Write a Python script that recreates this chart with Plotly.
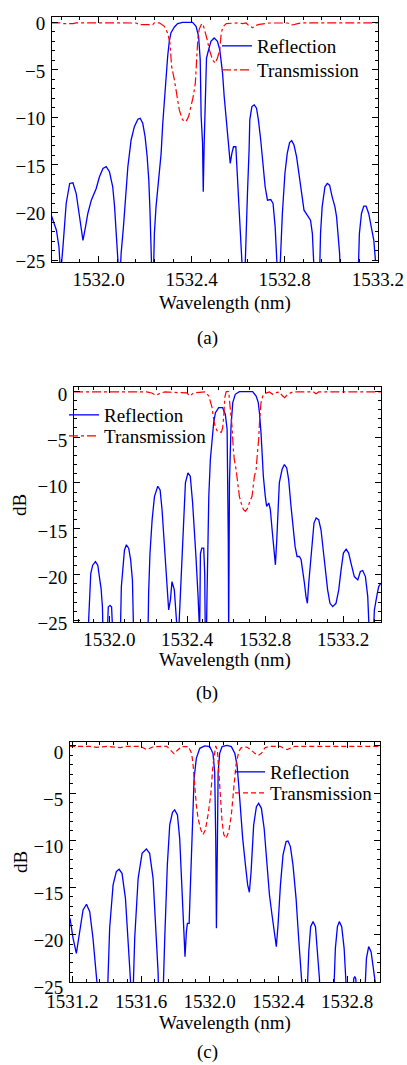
import plotly.graph_objects as go

# ---------------- data (wavelength in nm, level in dB) ----------------
# values below the -25 dB floor are drawn off-axis (clipped by the frame)
A_REFL_WL = [
    1531.797, 1531.819, 1531.830, 1531.837, 1531.847, 1531.854, 1531.861, 1531.876, 1531.890, 1531.904,
    1531.916, 1531.926, 1531.933, 1531.944, 1531.954, 1531.969, 1531.990, 1532.004, 1532.019, 1532.033,
    1532.047, 1532.061, 1532.069, 1532.076, 1532.083, 1532.087, 1532.093, 1532.097, 1532.107, 1532.116,
    1532.126, 1532.140, 1532.154, 1532.169, 1532.179, 1532.190, 1532.200, 1532.209, 1532.216, 1532.221,
    1532.226, 1532.229, 1532.236, 1532.240, 1532.247, 1532.259, 1532.269, 1532.276, 1532.283, 1532.290,
    1532.297, 1532.304, 1532.311, 1532.326, 1532.340, 1532.361, 1532.390, 1532.404, 1532.419, 1532.430,
    1532.437, 1532.441, 1532.447, 1532.450, 1532.454, 1532.459, 1532.464, 1532.473, 1532.483, 1532.497,
    1532.511, 1532.521, 1532.533, 1532.540, 1532.547, 1532.554, 1532.561, 1532.566, 1532.573, 1532.580,
    1532.590, 1532.594, 1532.601, 1532.607, 1532.614, 1532.619, 1532.629, 1532.633, 1532.640, 1532.647,
    1532.650, 1532.659, 1532.669, 1532.679, 1532.687, 1532.697, 1532.707, 1532.716, 1532.726, 1532.740,
    1532.750, 1532.759, 1532.764, 1532.769, 1532.779, 1532.783, 1532.790, 1532.801, 1532.811, 1532.821,
    1532.830, 1532.840, 1532.851, 1532.861, 1532.873, 1532.883, 1532.897, 1532.911, 1532.919, 1532.924,
    1532.927, 1532.950, 1532.954, 1532.961, 1532.973, 1532.983, 1532.993, 1533.004, 1533.016, 1533.023,
    1533.030, 1533.036, 1533.039, 1533.116, 1533.121, 1533.130, 1533.140, 1533.150, 1533.161, 1533.173,
    1533.183, 1533.190]
A_REFL_DB = [
    -20.28, -21.86, -23.62, -26.5, -23.62, -21.51, -19.05, -16.94, -16.87, -18.0,
    -20.1, -21.86, -22.92, -21.51, -20.1, -18.7, -17.47, -16.24, -15.36, -15.18,
    -15.71, -17.29, -19.4, -22.21, -24.32, -26.5, -26.5, -24.32, -21.51, -18.7,
    -15.18, -12.37, -10.97, -10.19, -10.09, -10.62, -12.02, -14.13, -16.59, -19.75,
    -22.92, -26.5, -26.5, -22.21, -19.4, -16.59, -13.78, -10.62, -8.15, -5.34,
    -3.59, -2.0, -1.12, -0.49, -0.14, 0.0, 0.0, 0.0, -0.42, -1.48,
    -3.94, -9.91, -12.72, -17.82, -12.72, -6.4, -3.76, -2.88, -2.0, -1.65,
    -2.0, -2.88, -5.34, -7.8, -9.91, -11.67, -13.78, -14.83, -13.78, -13.08,
    -13.08, -14.83, -17.29, -20.46, -22.92, -26.5, -26.5, -22.21, -18.0, -13.43,
    -10.26, -8.86, -8.68, -9.03, -10.26, -12.37, -15.18, -17.29, -18.7, -18.63,
    -19.05, -21.51, -23.97, -26.5, -26.5, -23.62, -20.1, -15.89, -13.78, -12.65,
    -12.44, -12.9, -14.13, -15.89, -18.0, -19.75, -20.28, -20.81, -22.21, -24.32,
    -26.5, -26.5, -22.21, -19.4, -17.29, -16.94, -17.12, -18.35, -19.4, -20.46,
    -22.21, -24.32, -26.5, -26.5, -22.21, -20.1, -19.33, -19.33, -20.1, -21.51,
    -22.92, -25.03]

A_TRANS_WL = [
    1531.797, 1531.833, 1531.847, 1531.890, 1531.904, 1532.076, 1532.090, 1532.161, 1532.176, 1532.233,
    1532.240, 1532.261, 1532.283, 1532.297, 1532.307, 1532.314, 1532.326, 1532.336, 1532.347, 1532.361,
    1532.376, 1532.387, 1532.397, 1532.407, 1532.416, 1532.421, 1532.427, 1532.433, 1532.439, 1532.444,
    1532.450, 1532.459, 1532.467, 1532.476, 1532.490, 1532.501, 1532.511, 1532.521, 1532.527, 1532.534,
    1532.549, 1532.599, 1532.620, 1532.634, 1532.649, 1532.663, 1532.677, 1532.691, 1532.734, 1532.813,
    1532.833, 1532.856, 1532.877, 1533.200]
A_TRANS_DB = [
    -0.05, -0.05, -0.14, -0.14, -0.05, -0.05, -0.07, -0.07, -0.25, -0.25,
    -0.05, -0.05, -0.42, -1.12, -2.18, -4.64, -6.05, -7.45, -9.21, -10.26,
    -10.44, -9.91, -8.86, -7.80, -6.40, -3.94, -1.60, -0.70, -0.30, -0.14,
    -0.30, -1.00, -1.83, -2.88, -3.94, -4.29, -3.76, -2.88, -1.20, -0.49,
    -0.14, -0.05, -0.14, -0.07, -0.42, -0.56, -0.32, -0.21, -0.07, -0.07,
    -0.28, -0.14, -0.05, -0.05]

B_REFL_WL = [
    1531.891, 1531.898, 1531.905, 1531.915, 1531.929, 1531.941, 1531.949, 1531.958, 1531.965, 1531.968,
    1531.990, 1531.995, 1532.004, 1532.012, 1532.018, 1532.057, 1532.062, 1532.069, 1532.078, 1532.088,
    1532.100, 1532.110, 1532.119, 1532.125, 1532.199, 1532.202, 1532.209, 1532.220, 1532.232, 1532.249,
    1532.261, 1532.271, 1532.279, 1532.288, 1532.297, 1532.305, 1532.314, 1532.322, 1532.334, 1532.343,
    1532.350, 1532.356, 1532.365, 1532.374, 1532.382, 1532.391, 1532.404, 1532.416, 1532.428, 1532.439,
    1532.445, 1532.456, 1532.461, 1532.464, 1532.468, 1532.475, 1532.485, 1532.490, 1532.493, 1532.499,
    1532.502, 1532.511, 1532.519, 1532.528, 1532.536, 1532.545, 1532.562, 1532.582, 1532.596, 1532.605,
    1532.608, 1532.611, 1532.613, 1532.617, 1532.625, 1532.634, 1532.647, 1532.668, 1532.736, 1532.754,
    1532.765, 1532.771, 1532.779, 1532.784, 1532.791, 1532.801, 1532.808, 1532.819, 1532.827, 1532.836,
    1532.844, 1532.853, 1532.860, 1532.865, 1532.873, 1532.887, 1532.899, 1532.911, 1532.921, 1532.933,
    1532.942, 1532.954, 1532.964, 1532.976, 1532.985, 1532.993, 1533.002, 1533.010, 1533.017, 1533.024,
    1533.032, 1533.041, 1533.051, 1533.062, 1533.075, 1533.087, 1533.099, 1533.110, 1533.121, 1533.133,
    1533.147, 1533.164, 1533.178, 1533.190, 1533.202, 1533.216, 1533.229, 1533.241, 1533.258, 1533.276,
    1533.289, 1533.301, 1533.315, 1533.327, 1533.335, 1533.356, 1533.361, 1533.373, 1533.383, 1533.395]
B_REFL_DB = [
    -26.5, -22.08, -19.89, -18.98, -18.58, -18.98, -20.07, -21.53, -23.54, -26.5,
    -26.5, -23.54, -23.36, -23.54, -26.5, -26.5, -21.35, -19.16, -17.34, -16.75,
    -17.15, -18.43, -20.62, -26.5, -26.5, -22.08, -17.70, -14.05, -11.50, -10.36,
    -10.77, -12.92, -15.51, -18.03, -21.68, -23.87, -22.77, -20.77, -21.68, -24.60,
    -26.5, -26.5, -22.08, -18.03, -13.65, -10.0, -8.91, -9.27, -12.19, -15.47,
    -18.03, -22.41, -26.5, -26.5, -17.70, -17.12, -17.12, -19.89, -26.5, -26.5,
    -22.08, -11.46, -7.45, -4.93, -3.43, -2.34, -1.79, -1.79, -2.52, -4.16,
    -8.94, -16.24, -26.5, -10.0, -3.83, -1.24, -0.33, -0.04, -0.04, -0.51,
    -1.24, -2.34, -4.53, -7.08, -9.27, -11.46, -12.55, -12.19, -12.92, -15.11,
    -17.30, -18.94, -16.20, -12.92, -10.0, -8.54, -7.99, -8.36, -9.64, -12.55,
    -14.74, -16.93, -18.03, -18.03, -18.39, -19.49, -20.95, -22.41, -23.14, -20.95,
    -18.76, -16.57, -14.38, -13.83, -14.01, -15.11, -17.30, -19.49, -21.68, -23.14,
    -23.50, -23.14, -21.68, -19.49, -17.66, -17.23, -17.66, -18.76, -20.22, -20.58,
    -19.67, -19.56, -20.22, -22.41, -26.5, -26.5, -23.87, -22.41, -21.31, -20.95]

B_TRANS_WL = [
    1531.819, 1532.192, 1532.218, 1532.240, 1532.264, 1532.286, 1532.398, 1532.415, 1532.432, 1532.493,
    1532.511, 1532.519, 1532.528, 1532.536, 1532.545, 1532.558, 1532.576, 1532.582, 1532.588, 1532.593,
    1532.600, 1532.608, 1532.613, 1532.620, 1532.630, 1532.637, 1532.642, 1532.651, 1532.659, 1532.668,
    1532.677, 1532.689, 1532.699, 1532.711, 1532.719, 1532.733, 1532.745, 1532.754, 1532.762, 1532.767,
    1532.771, 1532.779, 1532.788, 1532.801, 1532.822, 1532.839, 1532.856, 1532.873, 1532.890, 1532.901,
    1532.916, 1532.942, 1533.048, 1533.062, 1533.075, 1533.395]
B_TRANS_DB = [
    -0.07, -0.07, -0.18, -0.44, -0.18, -0.07, -0.18, -0.51, -0.18, -0.07,
    -0.51, -1.06, -1.79, -3.07, -3.98, -4.45, -4.45, -3.98, -2.70, -0.69,
    -0.04, 0.0, -0.04, -1.61, -3.80, -6.35, -7.45, -8.54, -10.0, -11.46,
    -12.19, -12.92, -13.10, -12.74, -12.19, -11.46, -9.27, -8.54, -6.35, -5.26,
    -3.43, -1.24, -0.51, -0.22, -0.07, -0.33, -0.15, -0.07, -0.51, -0.69,
    -0.33, -0.07, -0.07, -0.26, -0.07, -0.07]

C_REFL_WL = [
    1531.186, 1531.204, 1531.223, 1531.243, 1531.262, 1531.282, 1531.301, 1531.320, 1531.340, 1531.350,
    1531.404, 1531.417, 1531.437, 1531.456, 1531.472, 1531.489, 1531.509, 1531.524, 1531.538, 1531.544,
    1531.553, 1531.563, 1531.583, 1531.606, 1531.631, 1531.650, 1531.670, 1531.685, 1531.699, 1531.703,
    1531.728, 1531.738, 1531.753, 1531.767, 1531.783, 1531.796, 1531.812, 1531.825, 1531.839, 1531.850,
    1531.856, 1531.864, 1531.870, 1531.880, 1531.889, 1531.899, 1531.909, 1531.922, 1531.942, 1531.971,
    1532.000, 1532.019, 1532.029, 1532.035, 1532.039, 1532.045, 1532.049, 1532.058, 1532.072, 1532.101,
    1532.126, 1532.146, 1532.159, 1532.169, 1532.179, 1532.192, 1532.208, 1532.221, 1532.231, 1532.241,
    1532.256, 1532.272, 1532.285, 1532.301, 1532.317, 1532.334, 1532.348, 1532.363, 1532.377, 1532.388,
    1532.398, 1532.412, 1532.427, 1532.445, 1532.456, 1532.470, 1532.485, 1532.503, 1532.518, 1532.534,
    1532.542, 1532.567, 1532.577, 1532.588, 1532.602, 1532.616, 1532.629, 1532.639, 1532.643, 1532.722,
    1532.732, 1532.744, 1532.755, 1532.769, 1532.783, 1532.794, 1532.798, 1532.833, 1532.839, 1532.845,
    1532.851, 1532.856, 1532.903, 1532.913, 1532.926, 1532.940, 1532.955, 1532.969, 1532.975]
C_REFL_DB = [
    -18.27, -20.39, -21.98, -19.68, -17.39, -16.78, -17.56, -20.39, -23.92, -26.5,
    -26.5, -19.33, -14.73, -13.32, -13.07, -13.50, -16.15, -20.39, -24.63, -26.5,
    -26.5, -20.39, -14.03, -11.38, -10.92, -11.38, -14.03, -18.62, -23.92, -26.5,
    -26.5, -20.39, -12.61, -8.37, -7.03, -6.78, -7.31, -9.79, -15.09, -20.39,
    -22.33, -19.68, -18.80, -18.80, -14.38, -8.02, -3.43, -1.31, -0.25, 0.0,
    -0.07, -0.78, -2.76, -9.79, -19.33, -9.79, -2.76, -0.78, -0.07, 0.05,
    -0.07, -0.78, -2.01, -4.17, -6.96, -9.79, -12.61, -14.73, -15.51, -13.32,
    -8.37, -6.43, -6.08, -6.61, -8.73, -12.61, -15.80, -17.92, -19.68, -21.27,
    -18.98, -14.73, -11.55, -10.14, -10.07, -10.67, -12.61, -16.15, -20.39, -23.92,
    -26.5, -26.5, -21.80, -19.15, -18.62, -19.15, -21.80, -24.63, -26.5, -26.5,
    -21.45, -19.15, -18.62, -19.15, -21.45, -24.63, -26.5, -26.5, -24.66, -24.45,
    -24.66, -26.5, -26.5, -22.51, -21.27, -21.80, -23.57, -25.16, -26.5]

C_TRANS_WL = [
    1531.186, 1531.303, 1531.340, 1531.400, 1531.478, 1531.517, 1531.594, 1531.633, 1531.672, 1531.750,
    1531.773, 1531.792, 1531.812, 1531.837, 1531.876, 1531.895, 1531.903, 1531.913, 1531.922, 1531.932,
    1531.948, 1531.961, 1531.975, 1531.990, 1532.006, 1532.019, 1532.029, 1532.035, 1532.045, 1532.052,
    1532.064, 1532.072, 1532.082, 1532.095, 1532.111, 1532.126, 1532.140, 1532.153, 1532.169, 1532.184,
    1532.216, 1532.239, 1532.264, 1532.283, 1532.303, 1532.322, 1532.351, 1532.410, 1532.439, 1532.452,
    1532.468, 1532.497, 1532.992]
C_TRANS_DB = [
    -0.04, -0.04, -0.14, -0.04, -0.18, -0.04, -0.04, -0.39, -0.07, -0.04,
    -0.46, -0.81, -0.46, -0.07, -0.07, -0.81, -2.01, -4.49, -6.25, -7.67,
    -8.87, -9.40, -8.87, -7.31, -5.19, -2.01, -0.46, 0.0, -0.46, -2.72,
    -6.25, -8.02, -9.40, -9.79, -9.08, -7.31, -4.49, -2.01, -0.60, -0.18,
    -0.11, -0.39, -0.81, -0.99, -0.74, -0.18, -0.04, -0.04, -0.32, -0.39,
    -0.25, -0.04, -0.04]

X_TICKS_AB = [1532.0, 1532.4, 1532.8, 1533.2]
X_TICKS_C = [1531.2, 1531.6, 1532.0, 1532.4, 1532.8]
Y_TICKS = [0, -5, -10, -15, -20, -25]

for a, b in [(A_REFL_WL, A_REFL_DB), (A_TRANS_WL, A_TRANS_DB), (B_REFL_WL, B_REFL_DB),
             (B_TRANS_WL, B_TRANS_DB), (C_REFL_WL, C_REFL_DB), (C_TRANS_WL, C_TRANS_DB)]:
    assert len(a) == len(b), (len(a), len(b))

# ---------------- figure ----------------
W, H = 407, 1065
FONT = "'Liberation Serif', 'Times New Roman', Times, serif"
BLUE = "#0000ff"
RED = "#ff0000"


def px_x(p):
    return p / W


def px_y(p):
    return 1 - p / H


fig = go.Figure()

panels = [
    (A_REFL_WL, A_REFL_DB, A_TRANS_WL, A_TRANS_DB, "", "dashdot", ("legend", "legend2")),
    (B_REFL_WL, B_REFL_DB, B_TRANS_WL, B_TRANS_DB, "2", "dashdot", ("legend3", "legend4")),
    (C_REFL_WL, C_REFL_DB, C_TRANS_WL, C_TRANS_DB, "3", "5px,3px", ("legend5", "legend6")),
]
for rw, rd, tw, td, s, dash, lg in panels:
    fig.add_trace(go.Scatter(x=rw, y=rd, mode="lines", name="Reflection",
                             line=dict(color=BLUE, width=1.3),
                             xaxis="x" + s, yaxis="y" + s, legend=lg[0]))
    fig.add_trace(go.Scatter(x=tw, y=td, mode="lines", name="Transmission",
                             line=dict(color=RED, width=1.2, dash=dash),
                             xaxis="x" + s, yaxis="y" + s, legend=lg[1]))

tickfont = dict(family=FONT, size=19, color="black")


def xaxis(domain, rng, anchor, tickvals, standoff=0):
    return dict(domain=domain, range=rng, anchor=anchor, tickvals=tickvals,
                ticktext=["%.1f" % v for v in tickvals], automargin=False,
                ticklabeloverflow="allow", ticklabelstandoff=standoff,
                ticks="inside", ticklen=6, tickwidth=1, tickcolor="black",
                showline=True, linecolor="black", linewidth=1, mirror="allticks",
                showgrid=False, zeroline=False, tickfont=tickfont,
                minor=dict(dtick=0.08, tick0=1532.0, ticks="inside", ticklen=3,
                           tickcolor="black", showgrid=False))


def yaxis(domain, rng, anchor, shift):
    return dict(domain=domain, range=rng, anchor=anchor, tickvals=Y_TICKS, automargin=False,
                ticks="inside", ticklen=6, tickwidth=1, tickcolor="black",
                showline=True, linecolor="black", linewidth=1, mirror="allticks",
                showgrid=False, zeroline=False, tickfont=tickfont, ticklabelshift=shift,
                ticklabelstandoff=2,
                minor=dict(dtick=1, tick0=0, ticks="inside", ticklen=3,
                           tickcolor="black", showgrid=False))


fig.update_layout(
    template="none",
    xaxis=xaxis([px_x(52), px_x(378)], [1531.8, 1533.201], "y", X_TICKS_AB),
    yaxis=yaxis([px_y(262), px_y(17)], [-25.2, 0.56], "x", 1),
    xaxis2=xaxis([px_x(74), px_x(381)], [1531.819, 1533.395], "y2", X_TICKS_AB),
    yaxis2=yaxis([px_y(622), px_y(387)], [-25.18, 0.47], "x2", 3),
    xaxis3=xaxis([px_x(70), px_x(380)], [1531.186, 1532.992], "y3", X_TICKS_C, standoff=2),
    yaxis3=yaxis([px_y(982), px_y(742)], [-25.02, 0.42], "x3", 6),
)

legfont = dict(family=FONT, size=19, color="black")
leg_common = dict(bgcolor="rgba(0,0,0,0)", borderwidth=0, font=legfont,
                  xanchor="left", yanchor="middle", itemwidth=30,
                  tracegroupgap=0)
fig.update_layout(
    legend=dict(x=px_x(217), y=px_y(46), **leg_common),
    legend2=dict(x=px_x(217), y=px_y(70), **leg_common),
    legend3=dict(x=px_x(64), y=px_y(415), **leg_common),
    legend4=dict(x=px_x(64), y=px_y(436), **leg_common),
    legend5=dict(x=px_x(230), y=px_y(772), **leg_common),
    legend6=dict(x=px_x(230), y=px_y(793), **leg_common),
)

annots = []
for yc in (303, 660, 1023):
    annots.append(dict(text="Wavelength (nm)", x=px_x(225), y=px_y(yc), xref="paper", yref="paper",
                       showarrow=False, xanchor="center", yanchor="middle",
                       font=dict(family=FONT, size=19, color="black")))
for lab, yc in (("(a)", 338), ("(b)", 693), ("(c)", 1052)):
    annots.append(dict(text=lab, x=px_x(207), y=px_y(yc), xref="paper", yref="paper",
                       showarrow=False, xanchor="center", yanchor="middle",
                       font=dict(family=FONT, size=19, color="black")))
for yc in (505, 862):
    annots.append(dict(text="dB", x=px_x(20), y=px_y(yc), xref="paper", yref="paper",
                       showarrow=False, xanchor="center", yanchor="middle", textangle=-90,
                       font=dict(family=FONT, size=19, color="black")))

fig.update_layout(
    width=W, height=H,
    margin=dict(l=0, r=0, t=0, b=0),
    paper_bgcolor="white", plot_bgcolor="white",
    annotations=annots,
    showlegend=True,
)

fig.write_html(
    "out.html",
    config={"displayModeBar": False},
    post_script="document.body.style.margin='0';document.body.style.padding='0';"
                "document.body.style.overflow='hidden';"
                "document.documentElement.style.overflow='hidden';",
)
